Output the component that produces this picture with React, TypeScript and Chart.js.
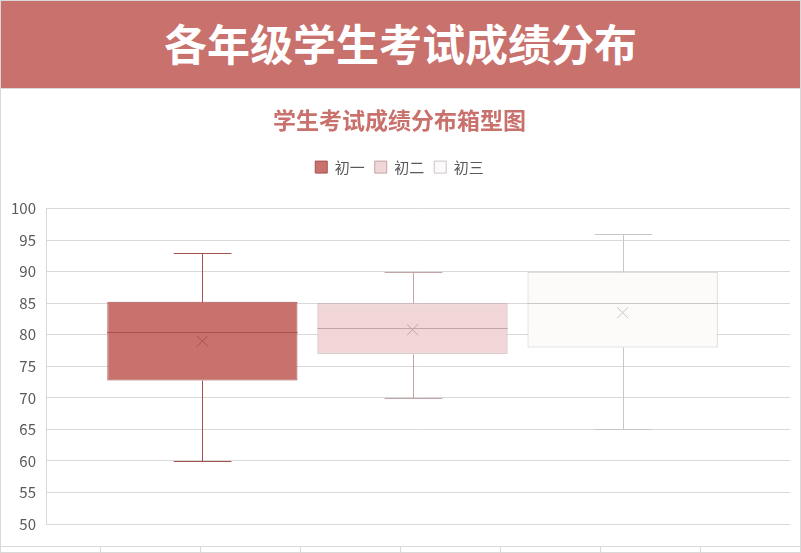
import React, { useEffect, useRef } from "react";
import { Chart, registerables } from "chart.js";

Chart.register(...registerables);

const grades = ["初一", "初二", "初三"];
const minVals = [60, 70, 65];
const q1Vals = [72.75, 77, 78];
const medianVals = [80.5, 81, 85];
const q3Vals = [85.25, 85, 90];
const maxVals = [93, 90, 96];
const meanVals = [79, 80.8, 83.5];
const yTicks = { min: 50, max: 100, step: 5 };

const fillColors = ["#C9716D", "#F0D6D6", "#FDFAFA"];
const lineColors = ["#A5524F", "#C2A5A6", "#C9C7C7"];

const FONT = '"Noto Sans CJK SC", "Noto Sans", sans-serif';

const boxPlugin = {
  id: "boxWhiskers",
  beforeInit(chart: any) {
    const legend = chart.legend;
    if (legend && !legend.__patched) {
      const orig = legend.fit;
      legend.fit = function () {
        orig.call(this);
        this.height += 24;
      };
      legend.__patched = true;
    }
  },
  afterLayout(chart: any) {
    // the category band sits slightly left of the plot's right edge, as in the source
    const xs = chart.scales.x;
    xs.right = xs.right - 11;
    xs.width = xs.right - xs.left;
    xs.configure();
  },
  afterDatasetsDraw(chart: any) {
    const ctx = chart.ctx;
    const y = chart.scales.y;
    chart.data.datasets.forEach((ds: any, i: number) => {
      const meta = chart.getDatasetMeta(i);
      const bar = meta.data[0];
      if (!bar) return;
      const x = Math.round(bar.x) + 0.5;
      const w = bar.width;
      const left = bar.x - w / 2;
      const right = bar.x + w / 2;
      const cap = w * 0.152;
      const py = (v: number) => Math.round(y.getPixelForValue(v)) + 0.5;
      ctx.save();
      ctx.strokeStyle = ds.borderColor;
      ctx.lineWidth = 1;
      ctx.beginPath();
      ctx.moveTo(x, py(q3Vals[i]));
      ctx.lineTo(x, py(maxVals[i]));
      ctx.moveTo(x - cap, py(maxVals[i]));
      ctx.lineTo(x + cap, py(maxVals[i]));
      ctx.moveTo(x, py(q1Vals[i]));
      ctx.lineTo(x, py(minVals[i]));
      ctx.moveTo(x - cap, py(minVals[i]));
      ctx.lineTo(x + cap, py(minVals[i]));
      ctx.moveTo(left, py(medianVals[i]));
      ctx.lineTo(right, py(medianVals[i]));
      ctx.stroke();
      const my = y.getPixelForValue(meanVals[i]);
      const s = 5.5;
      ctx.beginPath();
      ctx.moveTo(bar.x - s, my - s);
      ctx.lineTo(bar.x + s, my + s);
      ctx.moveTo(bar.x + s, my - s);
      ctx.lineTo(bar.x - s, my + s);
      ctx.stroke();
      ctx.restore();
    });
  },
};

function BoxChart() {
  const ref = useRef<HTMLCanvasElement | null>(null);
  useEffect(() => {
    if (!ref.current) return;
    const chart = new Chart(ref.current, {
      type: "bar",
      data: {
        labels: [""],
        datasets: grades.map((g, i) => ({
          label: g,
          data: [[q1Vals[i], q3Vals[i]]] as any,
          backgroundColor: fillColors[i],
          borderColor: lineColors[i],
          borderWidth: 1,
          borderSkipped: false,
          barPercentage: 0.905,
          categoryPercentage: 0.86,
        })),
      },
      options: {
        responsive: false,
        animation: false,
        layout: { padding: { left: 8, right: 9, top: 0, bottom: 20 } },
        plugins: {
          title: {
            display: true,
            text: "学生考试成绩分布箱型图",
            color: "#C9716D",
            font: { family: FONT, size: 23, weight: "bold" },
            padding: { top: 17, bottom: 16 },
          },
          legend: {
            display: true,
            position: "top",
            labels: {
              boxWidth: 12,
              boxHeight: 12,
              padding: 10,
              color: "#595959",
              font: { family: FONT, size: 15 },
            },
          },
          tooltip: { enabled: false },
        },
        scales: {
          x: { display: false },
          y: {
            min: yTicks.min,
            max: yTicks.max,
            afterFit(scale: any) {
              scale.width = 37;
            },
            ticks: {
              stepSize: yTicks.step,
              color: "#595959",
              padding: 10,
              font: { family: FONT, size: 15 },
            },
            grid: { color: "#D9D9D9", lineWidth: 1, drawTicks: false },
            border: { display: true, color: "#D9D9D9" },
          },
        },
      },
      plugins: [boxPlugin as any],
    });
    return () => chart.destroy();
  }, []);
  return <canvas ref={ref} width={798} height={455} style={{ display: "block", width: 798, height: 455 }} />;
}

export default function App() {
  useEffect(() => {
    document.body.style.margin = "0";
  }, []);
  const seps = [100, 200, 300, 400, 500, 600, 700];
  return (
    <div
      style={{
        position: "relative",
        width: 801,
        height: 553,
        boxSizing: "border-box",
        border: "1px solid #D9D9D9",
        background: "#fff",
        fontFamily: FONT,
        overflow: "hidden",
      }}
    >
      <div
        style={{
          height: 88,
          boxSizing: "border-box",
          paddingBottom: 4,
          background: "#C9716D",
          borderBottom: "1px solid #D9D9D9",
          color: "#fff",
          fontSize: 43,
          fontWeight: 700,
          display: "flex",
          alignItems: "center",
          justifyContent: "center",
          lineHeight: 1,
        }}
      >
        各年级学生考试成绩分布
      </div>
      <BoxChart />
      <div
        style={{
          position: "absolute",
          left: 0,
          right: 0,
          top: 545,
          height: 6,
          borderTop: "1px solid #D9D9D9",
        }}
      >
        {seps.map((s) => (
          <div
            key={s}
            style={{ position: "absolute", left: s - 1, top: 0, width: 1, height: 6, background: "#D9D9D9" }}
          />
        ))}
      </div>
    </div>
  );
}
